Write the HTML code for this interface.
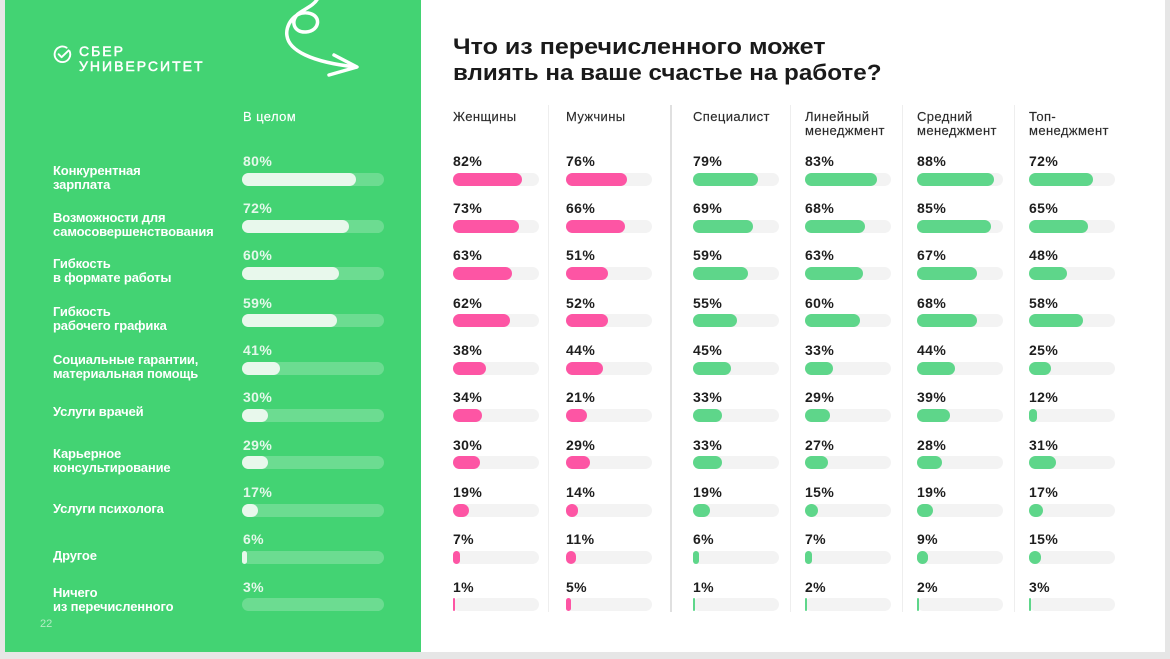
<!DOCTYPE html>
<html>
<head>
<meta charset="utf-8">
<style>
*{margin:0;padding:0;box-sizing:border-box}
html,body{width:1170px;height:659px;overflow:hidden;background:#e6e6e6}
body{position:relative;font-family:"Liberation Sans","Noto Sans CJK SC",sans-serif}
.slide{position:absolute;left:5px;top:0;width:1160px;height:652px;background:#fff}
.green{position:absolute;left:5px;top:0;width:416px;height:652px;background:#43d373}
.abs{position:absolute;white-space:nowrap}
.p{position:absolute;font:bold 14px/16px "Liberation Sans",sans-serif;letter-spacing:0.4px;color:#1e1e1e;white-space:nowrap}
.pl{color:#e4f8ea}
.t{position:absolute;height:13px;width:86px;border-radius:6.5px;background:#f3f3f3}
.tl{width:142px;background:rgba(255,255,255,0.22)}
.f{position:absolute;left:0;top:0;height:13px;border-radius:6.5px}
.pk{background:#fd55a4}
.gr{background:#5ed68a}
.wh{background:#e8f8ec}
.h{position:absolute;font:13px/14px "Liberation Sans",sans-serif;letter-spacing:0.4px;color:#2b2b2b;white-space:nowrap;-webkit-text-stroke:0.15px #2b2b2b}
.lab{position:absolute;left:53px;font:bold 13px/14px "Liberation Sans",sans-serif;letter-spacing:-0.15px;color:#fff;white-space:nowrap}
.sep{position:absolute;top:105px;height:507px;width:1px;background:#eeeeee}
.ttl{position:absolute;left:453px;font:bold 22px/26px "Liberation Sans",sans-serif;color:#1a1a1a;transform-origin:0 0;white-space:nowrap}
</style>
</head>
<body>
<div class="slide"></div>
<div class="green"></div>

<!-- swirl arrow -->
<svg class="abs" style="left:270px;top:0" width="110" height="90" viewBox="270 0 110 90">
<path d="M318,-2 C314,6 304,9 298,14 C290,21 294,33 306,32 C320,31 322,15 308,13 C294,11 285,26 287,36 C289,50 310,62 356,67" fill="none" stroke="#fff" stroke-width="3.5" stroke-linecap="round" stroke-linejoin="round"/>
<path d="M334,55 L357,67 L329,75" fill="none" stroke="#fff" stroke-width="3.5" stroke-linecap="round" stroke-linejoin="round"/>
</svg>

<!-- logo -->
<svg class="abs" style="left:53px;top:45px" width="19" height="19" viewBox="0 0 19 19">
<path d="M16.6 6.2 A7.8 7.8 0 1 1 13.6 2.7" fill="none" stroke="#fff" stroke-width="1.9" stroke-linecap="round"/>
<path d="M5.6 9.2 L8.6 12.2 L15.6 5.4" fill="none" stroke="#fff" stroke-width="1.9" stroke-linecap="round" stroke-linejoin="round"/>
</svg>
<div class="abs" style="left:79px;top:44.3px;font:14px/15px 'Liberation Sans',sans-serif;letter-spacing:2px;color:#fff;-webkit-text-stroke:0.5px #fff">СБЕР<br>УНИВЕРСИТЕТ</div>

<div class="abs" style="left:40px;top:618px;font:11px/12px 'Liberation Sans',sans-serif;color:#b5ecc5">22</div>

<!-- title -->
<div class="ttl" style="top:34.4px;transform:scaleX(1.14)">Что из перечисленного может</div>
<div class="ttl" style="top:60.4px;transform:scaleX(1.10)">влиять на ваше счастье на работе?</div>

<!-- headers -->
<div class="h" style="left:243px;top:109.5px;color:#fff;-webkit-text-stroke:0.15px #fff">В целом</div>
<div class="h" style="left:453px;top:109.5px">Женщины</div>
<div class="h" style="left:566px;top:109.5px">Мужчины</div>
<div class="h" style="left:693px;top:109.5px">Специалист</div>
<div class="h" style="left:805px;top:109.5px">Линейный<br>менеджмент</div>
<div class="h" style="left:917px;top:109.5px">Средний<br>менеджмент</div>
<div class="h" style="left:1029px;top:109.5px">Топ-<br>менеджмент</div>

<!-- separators -->
<div class="sep" style="left:548px"></div>
<div class="sep" style="left:670px;width:2px;background:#e0e0e0"></div>
<div class="sep" style="left:790px"></div>
<div class="sep" style="left:902px"></div>
<div class="sep" style="left:1014px"></div>

<!-- left labels -->
<div class="lab" style="top:164.2px">Конкурентная<br>зарплата</div>
<div class="lab" style="top:210.8px">Возможности для<br>самосовершенствования</div>
<div class="lab" style="top:257px">Гибкость<br>в формате работы</div>
<div class="lab" style="top:305.2px">Гибкость<br>рабочего графика</div>
<div class="lab" style="top:352.5px">Социальные гарантии,<br>материальная помощь</div>
<div class="lab" style="top:405.2px">Услуги врачей</div>
<div class="lab" style="top:446.8px">Карьерное<br>консультирование</div>
<div class="lab" style="top:501.8px">Услуги психолога</div>
<div class="lab" style="top:548.5px">Другое</div>
<div class="lab" style="top:585.8px">Ничего<br>из перечисленного</div>

<!-- left bars -->
<div class="p pl" style="left:243px;top:152.85px">80%</div><div class="t tl" style="left:242px;top:172.5px"><div class="f wh" style="width:114px"></div></div>
<div class="p pl" style="left:243px;top:200.15px">72%</div><div class="t tl" style="left:242px;top:219.8px"><div class="f wh" style="width:107px"></div></div>
<div class="p pl" style="left:243px;top:247.45px">60%</div><div class="t tl" style="left:242px;top:267.1px"><div class="f wh" style="width:97px"></div></div>
<div class="p pl" style="left:243px;top:294.75px">59%</div><div class="t tl" style="left:242px;top:314.4px"><div class="f wh" style="width:95px"></div></div>
<div class="p pl" style="left:243px;top:342.05px">41%</div><div class="t tl" style="left:242px;top:361.7px"><div class="f wh" style="width:38px"></div></div>
<div class="p pl" style="left:243px;top:389.35px">30%</div><div class="t tl" style="left:242px;top:409px"><div class="f wh" style="width:26px"></div></div>
<div class="p pl" style="left:243px;top:436.65px">29%</div><div class="t tl" style="left:242px;top:456.3px"><div class="f wh" style="width:26px"></div></div>
<div class="p pl" style="left:243px;top:483.95px">17%</div><div class="t tl" style="left:242px;top:503.6px"><div class="f wh" style="width:16px"></div></div>
<div class="p pl" style="left:243px;top:531.25px">6%</div><div class="t tl" style="left:242px;top:550.9px"><div class="f wh" style="width:5px"></div></div>
<div class="p pl" style="left:243px;top:578.55px">3%</div><div class="t tl" style="left:242px;top:598.2px"></div>

<!-- Женщины -->
<div class="p" style="left:453px;top:152.85px">82%</div><div class="t" style="left:453px;top:172.5px"><div class="f pk" style="width:69px"></div></div>
<div class="p" style="left:453px;top:200.15px">73%</div><div class="t" style="left:453px;top:219.8px"><div class="f pk" style="width:66px"></div></div>
<div class="p" style="left:453px;top:247.45px">63%</div><div class="t" style="left:453px;top:267.1px"><div class="f pk" style="width:59px"></div></div>
<div class="p" style="left:453px;top:294.75px">62%</div><div class="t" style="left:453px;top:314.4px"><div class="f pk" style="width:57px"></div></div>
<div class="p" style="left:453px;top:342.05px">38%</div><div class="t" style="left:453px;top:361.7px"><div class="f pk" style="width:33px"></div></div>
<div class="p" style="left:453px;top:389.35px">34%</div><div class="t" style="left:453px;top:409px"><div class="f pk" style="width:29px"></div></div>
<div class="p" style="left:453px;top:436.65px">30%</div><div class="t" style="left:453px;top:456.3px"><div class="f pk" style="width:27px"></div></div>
<div class="p" style="left:453px;top:483.95px">19%</div><div class="t" style="left:453px;top:503.6px"><div class="f pk" style="width:16px"></div></div>
<div class="p" style="left:453px;top:531.25px">7%</div><div class="t" style="left:453px;top:550.9px"><div class="f pk" style="width:7px"></div></div>
<div class="p" style="left:453px;top:578.55px">1%</div><div class="t" style="left:453px;top:598.2px"><div class="f pk" style="width:2px"></div></div>

<!-- Мужчины -->
<div class="p" style="left:566px;top:152.85px">76%</div><div class="t" style="left:566px;top:172.5px"><div class="f pk" style="width:61px"></div></div>
<div class="p" style="left:566px;top:200.15px">66%</div><div class="t" style="left:566px;top:219.8px"><div class="f pk" style="width:59px"></div></div>
<div class="p" style="left:566px;top:247.45px">51%</div><div class="t" style="left:566px;top:267.1px"><div class="f pk" style="width:42px"></div></div>
<div class="p" style="left:566px;top:294.75px">52%</div><div class="t" style="left:566px;top:314.4px"><div class="f pk" style="width:42px"></div></div>
<div class="p" style="left:566px;top:342.05px">44%</div><div class="t" style="left:566px;top:361.7px"><div class="f pk" style="width:37px"></div></div>
<div class="p" style="left:566px;top:389.35px">21%</div><div class="t" style="left:566px;top:409px"><div class="f pk" style="width:21px"></div></div>
<div class="p" style="left:566px;top:436.65px">29%</div><div class="t" style="left:566px;top:456.3px"><div class="f pk" style="width:24px"></div></div>
<div class="p" style="left:566px;top:483.95px">14%</div><div class="t" style="left:566px;top:503.6px"><div class="f pk" style="width:12px"></div></div>
<div class="p" style="left:566px;top:531.25px">11%</div><div class="t" style="left:566px;top:550.9px"><div class="f pk" style="width:10px"></div></div>
<div class="p" style="left:566px;top:578.55px">5%</div><div class="t" style="left:566px;top:598.2px"><div class="f pk" style="width:5px"></div></div>

<!-- Специалист -->
<div class="p" style="left:693px;top:152.85px">79%</div><div class="t" style="left:693px;top:172.5px"><div class="f gr" style="width:65px"></div></div>
<div class="p" style="left:693px;top:200.15px">69%</div><div class="t" style="left:693px;top:219.8px"><div class="f gr" style="width:60px"></div></div>
<div class="p" style="left:693px;top:247.45px">59%</div><div class="t" style="left:693px;top:267.1px"><div class="f gr" style="width:55px"></div></div>
<div class="p" style="left:693px;top:294.75px">55%</div><div class="t" style="left:693px;top:314.4px"><div class="f gr" style="width:44px"></div></div>
<div class="p" style="left:693px;top:342.05px">45%</div><div class="t" style="left:693px;top:361.7px"><div class="f gr" style="width:38px"></div></div>
<div class="p" style="left:693px;top:389.35px">33%</div><div class="t" style="left:693px;top:409px"><div class="f gr" style="width:29px"></div></div>
<div class="p" style="left:693px;top:436.65px">33%</div><div class="t" style="left:693px;top:456.3px"><div class="f gr" style="width:29px"></div></div>
<div class="p" style="left:693px;top:483.95px">19%</div><div class="t" style="left:693px;top:503.6px"><div class="f gr" style="width:17px"></div></div>
<div class="p" style="left:693px;top:531.25px">6%</div><div class="t" style="left:693px;top:550.9px"><div class="f gr" style="width:6px"></div></div>
<div class="p" style="left:693px;top:578.55px">1%</div><div class="t" style="left:693px;top:598.2px"><div class="f gr" style="width:2px"></div></div>

<!-- Линейный -->
<div class="p" style="left:805px;top:152.85px">83%</div><div class="t" style="left:805px;top:172.5px"><div class="f gr" style="width:72px"></div></div>
<div class="p" style="left:805px;top:200.15px">68%</div><div class="t" style="left:805px;top:219.8px"><div class="f gr" style="width:60px"></div></div>
<div class="p" style="left:805px;top:247.45px">63%</div><div class="t" style="left:805px;top:267.1px"><div class="f gr" style="width:58px"></div></div>
<div class="p" style="left:805px;top:294.75px">60%</div><div class="t" style="left:805px;top:314.4px"><div class="f gr" style="width:55px"></div></div>
<div class="p" style="left:805px;top:342.05px">33%</div><div class="t" style="left:805px;top:361.7px"><div class="f gr" style="width:28px"></div></div>
<div class="p" style="left:805px;top:389.35px">29%</div><div class="t" style="left:805px;top:409px"><div class="f gr" style="width:25px"></div></div>
<div class="p" style="left:805px;top:436.65px">27%</div><div class="t" style="left:805px;top:456.3px"><div class="f gr" style="width:23px"></div></div>
<div class="p" style="left:805px;top:483.95px">15%</div><div class="t" style="left:805px;top:503.6px"><div class="f gr" style="width:13px"></div></div>
<div class="p" style="left:805px;top:531.25px">7%</div><div class="t" style="left:805px;top:550.9px"><div class="f gr" style="width:7px"></div></div>
<div class="p" style="left:805px;top:578.55px">2%</div><div class="t" style="left:805px;top:598.2px"><div class="f gr" style="width:2px"></div></div>

<!-- Средний -->
<div class="p" style="left:917px;top:152.85px">88%</div><div class="t" style="left:917px;top:172.5px"><div class="f gr" style="width:77px"></div></div>
<div class="p" style="left:917px;top:200.15px">85%</div><div class="t" style="left:917px;top:219.8px"><div class="f gr" style="width:74px"></div></div>
<div class="p" style="left:917px;top:247.45px">67%</div><div class="t" style="left:917px;top:267.1px"><div class="f gr" style="width:60px"></div></div>
<div class="p" style="left:917px;top:294.75px">68%</div><div class="t" style="left:917px;top:314.4px"><div class="f gr" style="width:60px"></div></div>
<div class="p" style="left:917px;top:342.05px">44%</div><div class="t" style="left:917px;top:361.7px"><div class="f gr" style="width:38px"></div></div>
<div class="p" style="left:917px;top:389.35px">39%</div><div class="t" style="left:917px;top:409px"><div class="f gr" style="width:33px"></div></div>
<div class="p" style="left:917px;top:436.65px">28%</div><div class="t" style="left:917px;top:456.3px"><div class="f gr" style="width:25px"></div></div>
<div class="p" style="left:917px;top:483.95px">19%</div><div class="t" style="left:917px;top:503.6px"><div class="f gr" style="width:16px"></div></div>
<div class="p" style="left:917px;top:531.25px">9%</div><div class="t" style="left:917px;top:550.9px"><div class="f gr" style="width:11px"></div></div>
<div class="p" style="left:917px;top:578.55px">2%</div><div class="t" style="left:917px;top:598.2px"><div class="f gr" style="width:2px"></div></div>

<!-- Топ -->
<div class="p" style="left:1029px;top:152.85px">72%</div><div class="t" style="left:1029px;top:172.5px"><div class="f gr" style="width:64px"></div></div>
<div class="p" style="left:1029px;top:200.15px">65%</div><div class="t" style="left:1029px;top:219.8px"><div class="f gr" style="width:59px"></div></div>
<div class="p" style="left:1029px;top:247.45px">48%</div><div class="t" style="left:1029px;top:267.1px"><div class="f gr" style="width:38px"></div></div>
<div class="p" style="left:1029px;top:294.75px">58%</div><div class="t" style="left:1029px;top:314.4px"><div class="f gr" style="width:54px"></div></div>
<div class="p" style="left:1029px;top:342.05px">25%</div><div class="t" style="left:1029px;top:361.7px"><div class="f gr" style="width:22px"></div></div>
<div class="p" style="left:1029px;top:389.35px">12%</div><div class="t" style="left:1029px;top:409px"><div class="f gr" style="width:8px"></div></div>
<div class="p" style="left:1029px;top:436.65px">31%</div><div class="t" style="left:1029px;top:456.3px"><div class="f gr" style="width:27px"></div></div>
<div class="p" style="left:1029px;top:483.95px">17%</div><div class="t" style="left:1029px;top:503.6px"><div class="f gr" style="width:14px"></div></div>
<div class="p" style="left:1029px;top:531.25px">15%</div><div class="t" style="left:1029px;top:550.9px"><div class="f gr" style="width:12px"></div></div>
<div class="p" style="left:1029px;top:578.55px">3%</div><div class="t" style="left:1029px;top:598.2px"><div class="f gr" style="width:2px"></div></div>

</body>
</html>
